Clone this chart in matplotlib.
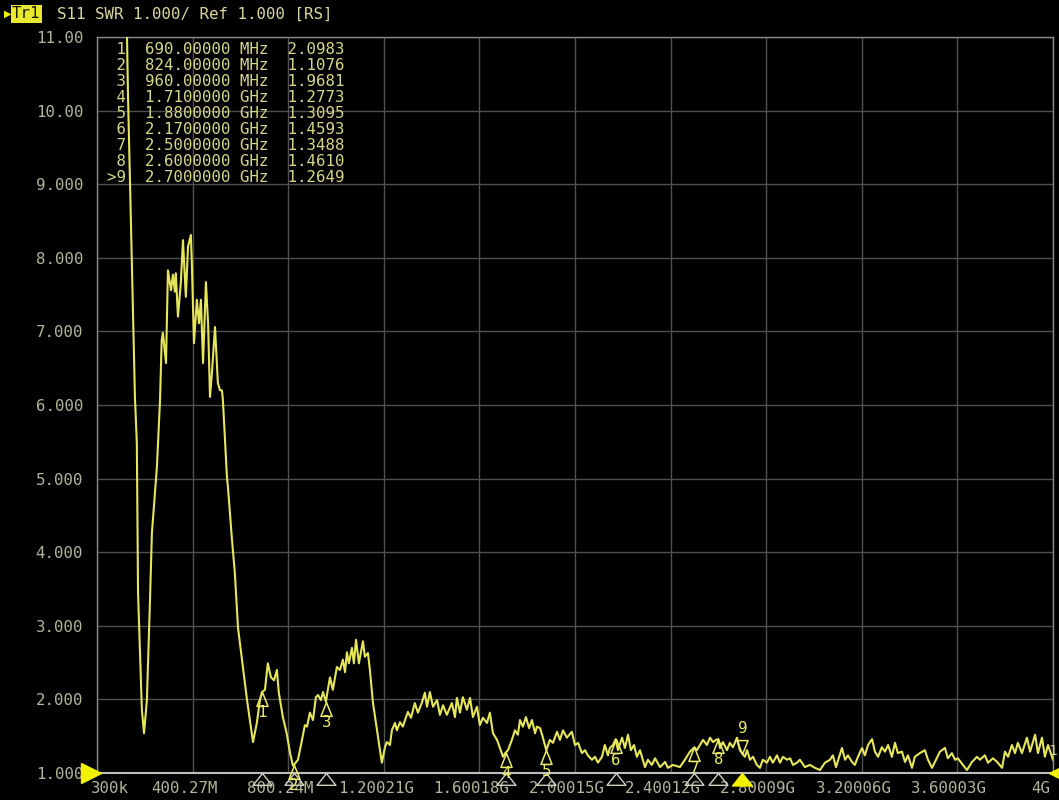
import matplotlib
matplotlib.use("Agg")
import matplotlib.pyplot as plt
from matplotlib.path import Path
from matplotlib.transforms import ScaledTranslation
import numpy as np

# ---------------- data (frequency in MHz, SWR) ----------------
freq_mhz = [0.3, 60, 110, 126, 130, 142, 159, 167, 172, 180, 188, 197,
            209, 222, 230, 251, 264, 271, 276, 289, 297, 310, 318, 326, 330, 339,
            351, 360, 372, 381, 393, 397, 406, 418, 427, 435, 444, 456, 465, 473,
            481, 494, 506, 515, 523, 527, 544, 548, 565, 577, 590, 607, 628, 640,
            653, 669, 682, 690, 703, 715, 728, 741, 753, 761, 778, 795, 808, 820,
            824, 841, 858, 870, 879, 891, 904, 916, 925, 937, 946, 958, 966, 975,
            987, 1004, 1017, 1029, 1038, 1046, 1054, 1067, 1075, 1084, 1096, 1113,
            1121, 1134, 1142, 1155, 1172, 1192, 1205, 1213, 1226, 1234, 1247, 1255,
            1268, 1280, 1289, 1301, 1314, 1330, 1343, 1360, 1372, 1381, 1393, 1406,
            1423, 1435, 1448, 1464, 1485, 1498, 1506, 1519, 1531, 1548, 1561, 1573,
            1590, 1602, 1615, 1632, 1644, 1657, 1674, 1686, 1699, 1710, 1720, 1736,
            1749, 1761, 1770, 1782, 1795, 1808, 1820, 1833, 1841, 1854, 1866, 1880,
            1895, 1908, 1925, 1937, 1950, 1966, 1987, 2000, 2013, 2029, 2042, 2054,
            2071, 2084, 2096, 2113, 2125, 2138, 2146, 2159, 2170, 2180, 2197, 2209,
            2222, 2234, 2247, 2259, 2272, 2293, 2305, 2322, 2335, 2356, 2377, 2389,
            2410, 2439, 2460, 2481, 2500, 2510, 2523, 2536, 2552, 2565, 2577, 2590,
            2600, 2607, 2619, 2636, 2648, 2661, 2678, 2690, 2700, 2711, 2720, 2732,
            2745, 2761, 2774, 2786, 2803, 2816, 2828, 2845, 2858, 2870, 2887, 2900,
            2912, 2929, 2941, 2962, 2983, 3004, 3025, 3046, 3067, 3079, 3092, 3117,
            3130, 3142, 3159, 3171, 3184, 3201, 3213, 3226, 3243, 3255, 3268, 3284,
            3297, 3310, 3326, 3339, 3351, 3368, 3381, 3393, 3410, 3422, 3443, 3464,
            3477, 3494, 3506, 3527, 3548, 3560, 3577, 3590, 3602, 3623, 3640, 3661,
            3682, 3694, 3715, 3728, 3749, 3766, 3787, 3799, 3812, 3828, 3841, 3853,
            3870, 3891, 3904, 3925, 3937, 3954, 3966, 3979, 4000]
swr = [40.0, 25.0, 14.0, 11.0, 10.2, 8.51, 6.11, 5.48, 3.45, 2.67, 1.86, 1.54,
       1.99, 3.35, 4.26, 5.16, 6.07, 6.88, 6.98, 6.57, 7.83, 7.56, 7.77, 7.54, 7.79, 7.20,
       7.66, 8.24, 7.47, 8.15, 8.31, 7.93, 6.84, 7.43, 7.11, 7.43, 6.57, 7.67, 7.11, 6.11,
       6.43, 7.06, 6.30, 6.20, 6.20, 6.07, 5.02, 4.89, 4.17, 3.72, 2.98, 2.54, 1.99, 1.72,
       1.42, 1.68, 1.99, 2.098, 2.13, 2.49, 2.30, 2.26, 2.40, 2.09, 1.76, 1.52, 1.27, 1.10,
       1.108, 1.18, 1.45, 1.65, 1.63, 1.82, 1.72, 2.03, 2.06, 1.99, 2.10, 1.968, 2.13, 2.30,
       2.13, 2.44, 2.40, 2.54, 2.37, 2.64, 2.49, 2.70, 2.49, 2.81, 2.49, 2.79,
       2.58, 2.63, 2.40, 1.95, 1.58, 1.14, 1.35, 1.42, 1.38, 1.58, 1.68, 1.58,
       1.69, 1.63, 1.72, 1.83, 1.75, 1.95, 1.82, 1.96, 2.09, 1.90, 2.10, 1.90,
       1.99, 1.79, 1.92, 1.79, 1.95, 1.76, 2.02, 1.82, 2.03, 1.86, 2.02, 1.76,
       1.90, 1.65, 1.75, 1.68, 1.82, 1.54, 1.45, 1.34, 1.22, 1.277, 1.31, 1.45,
       1.58, 1.52, 1.72, 1.63, 1.76, 1.61, 1.72, 1.54, 1.63, 1.61, 1.48, 1.31,
       1.45, 1.41, 1.56, 1.45, 1.58, 1.48, 1.56, 1.38, 1.41, 1.27, 1.31, 1.24,
       1.18, 1.22, 1.14, 1.22, 1.38, 1.24, 1.34, 1.38, 1.459, 1.31, 1.48, 1.34,
       1.52, 1.31, 1.38, 1.22, 1.31, 1.08, 1.18, 1.11, 1.20, 1.08, 1.15, 1.07,
       1.11, 1.08, 1.18, 1.29, 1.349, 1.31, 1.38, 1.45, 1.38, 1.48, 1.42, 1.45,
       1.461, 1.34, 1.42, 1.31, 1.41, 1.35, 1.48, 1.31, 1.265, 1.22, 1.31, 1.18,
       1.22, 1.11, 1.07, 1.18, 1.14, 1.22, 1.14, 1.24, 1.14, 1.22, 1.18, 1.20,
       1.11, 1.14, 1.18, 1.08, 1.11, 1.07, 1.04, 1.14, 1.18, 1.24, 1.08, 1.34,
       1.18, 1.24, 1.15, 1.11, 1.22, 1.34, 1.24, 1.38, 1.46, 1.29, 1.22, 1.35,
       1.29, 1.38, 1.22, 1.41, 1.27, 1.29, 1.15, 1.24, 1.07, 1.22, 1.27, 1.31,
       1.18, 1.07, 1.15, 1.29, 1.34, 1.20, 1.27, 1.18, 1.20, 1.11, 1.04, 1.15,
       1.22, 1.18, 1.24, 1.14, 1.20, 1.15, 1.07, 1.29, 1.22, 1.38, 1.27, 1.41,
       1.27, 1.48, 1.29, 1.52, 1.27, 1.48, 1.22, 1.38, 1.18]

marker_ids = ["1", "2", "3", "4", "5", "6", "7", "8", "9"]
marker_freq_mhz = [690.0, 824.0, 960.0, 1710.0, 1880.0, 2170.0, 2500.0, 2600.0, 2700.0]
marker_swr = [2.0983, 1.1076, 1.9681, 1.2773, 1.3095, 1.4593, 1.3488, 1.4610, 1.2649]
active_marker = "9"

y_ticks = [1, 2, 3, 4, 5, 6, 7, 8, 9, 10, 11]
y_tick_labels = ["1.000", "2.000", "3.000", "4.000", "5.000", "6.000",
                 "7.000", "8.000", "9.000", "10.00", "11.00"]
x_start_mhz, x_stop_mhz = 0.3, 4000.0
x_tick_labels = ["300k", "400.27M", "800.24M", "1.20021G", "1.60018G", "2.00015G",
                 "2.40012G", "2.80009G", "3.20006G", "3.60003G", "4G"]
header_text = "S11 SWR 1.000/ Ref 1.000 [RS]"
trace_name = "Tr1"

# ---------------- style ----------------
MONO = "DejaVu Sans Mono"
TRACE = "#e6e65a"
TEXT_Y = "#d6d68a"
TICK_C = "#b4b49a"
GRID = "#505050"
FS = 11.3

W, H = 1059, 800
fig = plt.figure(figsize=(W / 100, H / 100), dpi=100, facecolor="black")
L, R, T, B = 97, 1053, 37, 773
ax = fig.add_axes([L / W, 1 - B / H, (R - L) / W, (B - T) / H], facecolor="black")

ax.set_xlim(x_start_mhz, x_stop_mhz)
ax.set_ylim(1, 11)
x_ticks = np.linspace(x_start_mhz, x_stop_mhz, len(x_tick_labels))
ax.set_xticks(x_ticks)
ax.set_xticklabels(x_tick_labels)
ax.set_yticks(y_ticks)
ax.set_yticklabels(y_tick_labels)
ax.tick_params(length=0, colors=TICK_C, labelsize=FS)
ax.tick_params(axis="y", pad=10)
ax.tick_params(axis="x", pad=6)
for lab in ax.get_xticklabels() + ax.get_yticklabels():
    lab.set_fontfamily(MONO)
ax.grid(True, color=GRID, lw=1.0)
ax.set_axisbelow(True)
for s in ["top", "left", "right"]:
    ax.spines[s].set_color("#8a8a8a")
    ax.spines[s].set_linewidth(1.0)
ax.spines["bottom"].set_color("#bdbdbd")
ax.spines["bottom"].set_linewidth(1.5)

# x tick label offsets (labels sit slightly left of their grid lines)
xl = ax.get_xticklabels()
for i, lab in enumerate(xl):
    if i == 0:
        lab.set_ha("left")
        lab.set_transform(lab.get_transform() + ScaledTranslation(-6 / 100, 0, fig.dpi_scale_trans))
    elif i == len(xl) - 1:
        lab.set_ha("right")
        lab.set_transform(lab.get_transform() + ScaledTranslation(-3 / 100, 0, fig.dpi_scale_trans))
    else:
        lab.set_transform(lab.get_transform() + ScaledTranslation(-8 / 100, 0, fig.dpi_scale_trans))

# trace
ax.plot(freq_mhz, swr, color=TRACE, lw=1.5, zorder=3, solid_joinstyle="round")

# marker shapes (apex at the data point)
up_tri = Path([(0, 0), (-0.4, -1.0), (0.4, -1.0), (0, 0)],
              [Path.MOVETO, Path.LINETO, Path.LINETO, Path.CLOSEPOLY])
down_tri = Path([(0, 0), (-0.4, 1.0), (0.4, 1.0), (0, 0)],
                [Path.MOVETO, Path.LINETO, Path.LINETO, Path.CLOSEPOLY])
base_tri = Path([(0, 0), (-0.8, -1.0), (0.8, -1.0), (0, 0)],
                [Path.MOVETO, Path.LINETO, Path.LINETO, Path.CLOSEPOLY])

for mid, mf, mv in zip(marker_ids, marker_freq_mhz, marker_swr):
    if mid == active_marker:
        ax.plot([mf], [mv], marker=down_tri, ms=20, mfc="none", mec="#eaea6a",
                mew=1.1, zorder=5, clip_on=False)
        ax.annotate(mid, (mf, mv), xytext=(0, 18), textcoords="offset points",
                    ha="center", va="center", color="#eaea6a", fontsize=FS,
                    family=MONO, zorder=6, annotation_clip=False)
        ax.plot([mf], [1.0], marker=base_tri, ms=18, mfc="#f2f200", mec="#f2f200",
                mew=1.0, zorder=6, clip_on=False)
    else:
        ax.plot([mf], [mv], marker=up_tri, ms=20, mfc="none", mec="#eaea6a",
                mew=1.1, zorder=5, clip_on=False)
        ax.annotate(mid, (mf, mv), xytext=(0, -15), textcoords="offset points",
                    ha="center", va="center", color="#eaea6a", fontsize=FS,
                    family=MONO, zorder=6, annotation_clip=False)
        ax.plot([mf], [1.0], marker=base_tri, ms=17, mfc="none", mec="#d0d0c0",
                mew=1.0, zorder=4, clip_on=False)

# reference level marker (left) and trace end marker (right)
ax.plot([x_start_mhz], [1.0], marker=">", ms=15, color="#f2f200", zorder=7,
        clip_on=False, transform=ax.transData + ScaledTranslation(-6 / 100, 0, fig.dpi_scale_trans))
ax.plot([x_stop_mhz], [1.0], marker="<", ms=15, color="#f2f200", zorder=7,
        clip_on=False, transform=ax.transData + ScaledTranslation(6 / 100, 0, fig.dpi_scale_trans))
ax.annotate(trace_name[-1], (x_stop_mhz, swr[-1]), xytext=(0, 6), textcoords="offset points",
            ha="center", va="center", color="#d8d870", fontsize=FS - 1, family=MONO,
            annotation_clip=False, zorder=6)

# marker table
for i, (mid, mf, mv) in enumerate(zip(marker_ids, marker_freq_mhz, marker_swr)):
    if mf < 1000:
        fs_txt = f"{mf:.5f} MHz"
    else:
        fs_txt = f"{mf / 1000:.7f} GHz"
    num = (">" + mid) if mid == active_marker else mid
    row = f"{num:>2}  {fs_txt}  {mv:.4f}"
    fig.text(107 / W, 1 - (50 + 16 * i) / H, row, ha="left", va="center",
             color=TEXT_Y, fontsize=FS, family=MONO, zorder=8)

# header
fig.text(4 / W, 1 - 14 / H, "\u25B6", ha="left", va="center", color="#f2f200",
         fontsize=7, family="DejaVu Sans")
fig.text(12 / W, 1 - 14 / H, trace_name, ha="left", va="center", color="#1a1a00",
         fontsize=FS, family=MONO,
         bbox=dict(boxstyle="square,pad=0.08", fc="#e8e830", ec="none"))
fig.text(57 / W, 1 - 14 / H, header_text, ha="left", va="center", color="#d8d8a0",
         fontsize=FS, family=MONO)

fig.savefig("out.png", dpi=100, facecolor="black")
